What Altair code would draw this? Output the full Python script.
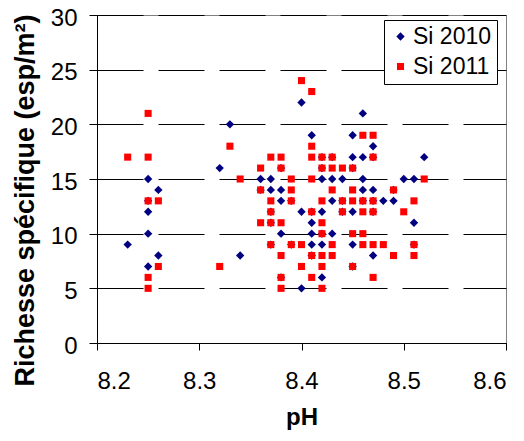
import altair as alt
import pandas as pd

series = ["Si 2010", "Si 2011"]
colors = ["#000080", "#FF0000"]
shapes = ["diamond", "square"]
x_ticks = [8.2, 8.3, 8.4, 8.5, 8.6]
y_ticks = [0, 5, 10, 15, 20, 25, 30]

ph_2010 = [8.23,
           8.25, 8.25, 8.25, 8.25, 8.25,
           8.26, 8.26,
           8.32, 8.33, 8.34,
           8.36, 8.36,
           8.37, 8.37, 8.37, 8.37, 8.37,
           8.38, 8.38, 8.38, 8.38, 8.38,
           8.39, 8.39,
           8.40, 8.40, 8.40,
           8.41, 8.41, 8.41, 8.41, 8.41, 8.41,
           8.42, 8.42, 8.42, 8.42, 8.42, 8.42, 8.42,
           8.43, 8.43, 8.43, 8.43,
           8.44, 8.44, 8.44,
           8.45, 8.45, 8.45, 8.45, 8.45, 8.45,
           8.46, 8.46, 8.46, 8.46, 8.46,
           8.47, 8.47, 8.47, 8.47, 8.47, 8.47,
           8.48,
           8.49, 8.49,
           8.50,
           8.51, 8.51, 8.51,
           8.52]
rich_2010 = [9,
             15, 13, 12, 10, 7,
             14, 8,
             16, 20, 8,
             15, 14,
             15, 14, 12, 11, 9,
             16, 14, 13, 10, 6,
             13, 9,
             22, 12, 5,
             19, 12, 11, 10, 9, 8,
             17, 16, 15, 12, 10, 9, 6,
             17, 15, 13, 10,
             15, 13, 12,
             19, 17, 16, 12, 9, 7,
             21, 17, 15, 14, 13,
             18, 17, 14, 13, 12, 8,
             13,
             14, 13,
             15,
             15, 11, 9,
             17]

ph_2011 = [8.23,
           8.25, 8.25, 8.25, 8.25, 8.25,
           8.26, 8.26,
           8.32, 8.33, 8.34,
           8.36, 8.36, 8.36,
           8.37, 8.37, 8.37, 8.37, 8.37,
           8.38, 8.38, 8.38, 8.38, 8.38, 8.38,
           8.39, 8.39, 8.39, 8.39,
           8.40, 8.40, 8.40,
           8.41, 8.41, 8.41, 8.41, 8.41, 8.41, 8.41,
           8.42, 8.42, 8.42, 8.42, 8.42, 8.42, 8.42, 8.42,
           8.43, 8.43, 8.43, 8.43, 8.43,
           8.44, 8.44, 8.44,
           8.45, 8.45, 8.45, 8.45, 8.45,
           8.46, 8.46, 8.46, 8.46, 8.46,
           8.47, 8.47, 8.47, 8.47, 8.47, 8.47,
           8.48,
           8.49, 8.49,
           8.50,
           8.51, 8.51, 8.51,
           8.52]
rich_2011 = [17,
             21, 17, 13, 6, 5,
             13, 7,
             7, 18, 15,
             16, 14, 11,
             17, 13, 12, 11, 9,
             17, 16, 11, 8, 6, 5,
             15, 14, 13, 9,
             24, 9, 7,
             23, 18, 17, 15, 12, 8, 6,
             17, 16, 13, 11, 10, 8, 7, 5,
             17, 16, 14, 9, 8,
             16, 13, 12,
             16, 14, 13, 10, 7,
             19, 13, 12, 10, 9,
             19, 17, 13, 12, 9, 6,
             9,
             14, 8,
             12,
             13, 9, 8,
             15]

df = pd.DataFrame({
    "pH": ph_2010 + ph_2011,
    "rich": rich_2010 + rich_2011,
    "serie": [series[0]] * len(ph_2010) + [series[1]] * len(ph_2011),
})

FONT = "Liberation Sans"

legend = alt.Legend(
    title=None, orient="none", legendX=287, legendY=5,
    strokeColor="black", fillColor="white", padding=5,
    labelFontSize=23, labelFont=FONT, labelColor="black",
    symbolSize=40, symbolStrokeWidth=0, rowPadding=6, labelOffset=1,
)

chart = alt.Chart(df).mark_point(filled=True, opacity=1, strokeWidth=0).encode(
    x=alt.X("pH:Q",
            scale=alt.Scale(domain=[8.2, 8.6], nice=False, zero=False),
            axis=alt.Axis(values=x_ticks, format=".1f", title="pH", grid=False,
                          labelFontSize=24, labelBaseline="alphabetic", labelPadding=38,
                          tickSize=7, titleFontSize=24, titleFontWeight="bold",
                          titleBaseline="alphabetic", titleY=81)),
    y=alt.Y("rich:Q",
            scale=alt.Scale(domain=[0, 30], nice=False),
            axis=alt.Axis(values=y_ticks, title="Richesse spécifique (esp/m²)",
                          grid=True, gridDash=[46, 15], gridColor="black", gridWidth=1,
                          labelFontSize=24, labelPadding=12, tickSize=8, labelOffset=3,
                          titleFontSize=27, titleFontWeight="bold",
                          titleBaseline="alphabetic", titleX=-64, titleY=185)),
    color=alt.Color("serie:N", scale=alt.Scale(domain=series, range=colors), legend=legend),
    shape=alt.Shape("serie:N", scale=alt.Scale(domain=series, range=shapes), legend=legend),
    size=alt.Size("serie:N", scale=alt.Scale(domain=series, range=[70, 50]), legend=None),
).properties(
    width=409, height=328,
    autosize=alt.AutoSizeParams(type="none"),
    padding={"left": 89, "top": 7, "right": 10, "bottom": 90},
).configure(font=FONT).configure_axis(
    domainColor="black", tickColor="black", labelColor="black", titleColor="black",
    labelFont=FONT, titleFont=FONT,
).configure_view(stroke="#808080", strokeWidth=1)

chart.save("out.html", embed_options={"renderer": "svg", "actions": False})
